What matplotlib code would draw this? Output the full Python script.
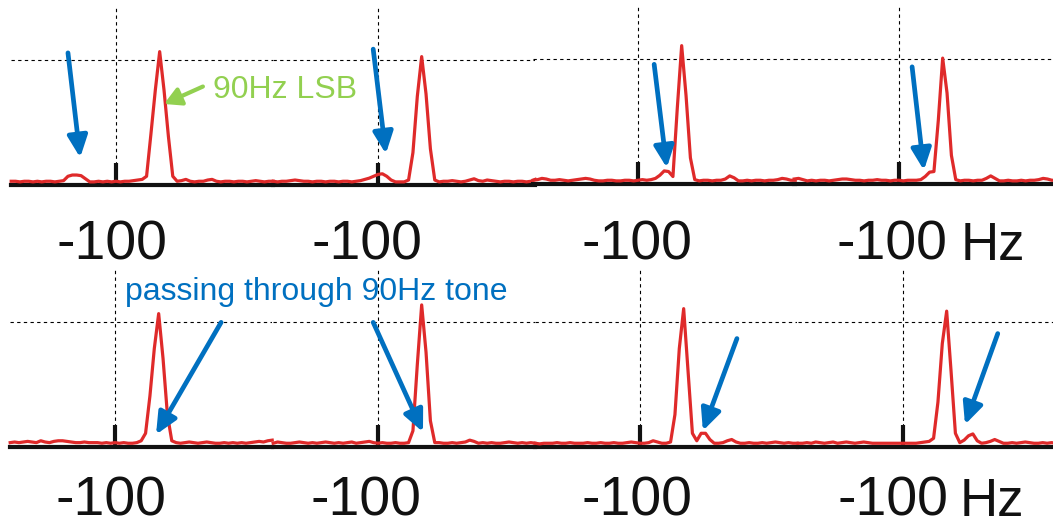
import numpy as np
import matplotlib
matplotlib.use("Agg")
import matplotlib.pyplot as plt

plt.rcParams['font.family'] = ['Liberation Sans', 'DejaVu Sans']

# frequency grid (Hz) shared by all eight spectra
freq = np.arange(-124, -63)

# spectrum magnitude, normalised so the dashed reference line is 1.0
spec_1 = [0.02, 0.02, 0.015, 0.02, 0.02, 0.015, 0.02, 0.015, 0.02, 0.02,
          0.015, 0.02, 0.025, 0.06, 0.07, 0.07, 0.065, 0.04, 0.015, 0.015,
          0.02, 0.015, 0.02, 0.015, 0.02, 0.015, 0.02, 0.02, 0.025, 0.03,
          0.035, 0.06, 0.4, 0.75, 1.06, 0.75, 0.38, 0.06, 0.02, 0.025,
          0.035, 0.02, 0.015, 0.02, 0.02, 0.03, 0.035, 0.02, 0.015, 0.02,
          0.02, 0.015, 0.02, 0.02, 0.015, 0.02, 0.025, 0.02, 0.015, 0.02,
          0.02]
spec_2 = [0.02, 0.015, 0.02, 0.02, 0.025, 0.03, 0.025, 0.02, 0.02, 0.015,
          0.02, 0.02, 0.015, 0.02, 0.02, 0.015, 0.02, 0.02, 0.015, 0.02,
          0.025, 0.035, 0.045, 0.06, 0.075, 0.08, 0.06, 0.03, 0.015, 0.015,
          0.015, 0.03, 0.25, 0.7, 1.02, 0.72, 0.28, 0.03, 0.015, 0.02,
          0.02, 0.025, 0.02, 0.015, 0.02, 0.03, 0.04, 0.025, 0.02, 0.03,
          0.025, 0.02, 0.015, 0.02, 0.02, 0.015, 0.02, 0.02, 0.015, 0.02,
          0.035]
spec_3 = [0.02, 0.025, 0.035, 0.03, 0.02, 0.02, 0.025, 0.02, 0.015, 0.02,
          0.025, 0.03, 0.035, 0.03, 0.02, 0.015, 0.015, 0.02, 0.02, 0.015,
          0.015, 0.02, 0.02, 0.015, 0.02, 0.025, 0.02, 0.025, 0.035, 0.06,
          0.095, 0.09, 0.05, 0.6, 1.1, 0.7, 0.2, 0.025, 0.015, 0.02,
          0.02, 0.015, 0.02, 0.02, 0.03, 0.055, 0.04, 0.015, 0.015, 0.02,
          0.015, 0.02, 0.02, 0.015, 0.02, 0.02, 0.025, 0.035, 0.03, 0.02,
          0.02]
spec_4 = [0.03, 0.035, 0.025, 0.015, 0.02, 0.015, 0.02, 0.02, 0.015, 0.02,
          0.025, 0.03, 0.03, 0.025, 0.02, 0.02, 0.015, 0.02, 0.02, 0.025,
          0.02, 0.02, 0.015, 0.02, 0.02, 0.015, 0.02, 0.02, 0.02, 0.025,
          0.05, 0.085, 0.09, 0.5, 1.0, 0.72, 0.22, 0.025, 0.015, 0.02,
          0.02, 0.015, 0.02, 0.02, 0.035, 0.055, 0.035, 0.015, 0.015, 0.02,
          0.015, 0.015, 0.02, 0.015, 0.02, 0.02, 0.025, 0.035, 0.03, 0.02,
          0.02]
spec_5 = [0.025, 0.03, 0.025, 0.03, 0.035, 0.03, 0.025, 0.04, 0.03, 0.025,
          0.035, 0.04, 0.04, 0.035, 0.03, 0.025, 0.025, 0.03, 0.025, 0.025,
          0.025, 0.02, 0.025, 0.02, 0.025, 0.02, 0.025, 0.02, 0.02, 0.025,
          0.04, 0.1, 0.4, 0.78, 1.06, 0.7, 0.25, 0.04, 0.025, 0.02,
          0.025, 0.03, 0.025, 0.02, 0.025, 0.03, 0.025, 0.02, 0.02, 0.025,
          0.02, 0.025, 0.02, 0.025, 0.02, 0.025, 0.03, 0.035, 0.03, 0.04,
          0.045]
spec_6 = [0.02, 0.03, 0.025, 0.02, 0.02, 0.025, 0.03, 0.025, 0.02, 0.025,
          0.02, 0.025, 0.03, 0.025, 0.02, 0.025, 0.02, 0.025, 0.03, 0.02,
          0.025, 0.03, 0.035, 0.025, 0.02, 0.025, 0.02, 0.02, 0.025, 0.02,
          0.02, 0.025, 0.12, 0.65, 1.13, 0.75, 0.2, 0.025, 0.025, 0.02,
          0.02, 0.025, 0.02, 0.025, 0.03, 0.045, 0.035, 0.02, 0.025, 0.02,
          0.025, 0.02, 0.02, 0.025, 0.03, 0.025, 0.02, 0.025, 0.02, 0.025,
          0.02]
spec_7 = [0.02, 0.015, 0.02, 0.02, 0.02, 0.025, 0.02, 0.02, 0.025, 0.02,
          0.02, 0.02, 0.025, 0.02, 0.02, 0.025, 0.02, 0.02, 0.025, 0.02,
          0.02, 0.025, 0.03, 0.025, 0.02, 0.02, 0.025, 0.04, 0.03, 0.02,
          0.02, 0.03, 0.25, 0.78, 1.1, 0.6, 0.1, 0.04, 0.1, 0.1,
          0.05, 0.02, 0.02, 0.025, 0.04, 0.05, 0.03, 0.02, 0.02, 0.025,
          0.02, 0.02, 0.025, 0.02, 0.025, 0.03, 0.025, 0.02, 0.025, 0.02,
          0.02]
spec_8 = [0.02, 0.02, 0.025, 0.02, 0.03, 0.025, 0.02, 0.025, 0.03, 0.02,
          0.025, 0.03, 0.025, 0.02, 0.025, 0.03, 0.025, 0.02, 0.02, 0.02,
          0.02, 0.02, 0.02, 0.02, 0.02, 0.02, 0.02, 0.02, 0.025, 0.03,
          0.035, 0.06, 0.35, 0.82, 1.08, 0.6, 0.1, 0.025, 0.045, 0.08,
          0.095, 0.04, 0.02, 0.025, 0.035, 0.05, 0.035, 0.02, 0.02, 0.025,
          0.02, 0.025, 0.03, 0.025, 0.02, 0.02, 0.025, 0.02, 0.025, 0.02,
          0.02]
spectra = [spec_1, spec_2, spec_3, spec_4, spec_5, spec_6, spec_7, spec_8]

tick_hz = -100
tick_label = "-100"
unit_label = "Hz"

# blue arrows: (tail, head) in each panel's data coords (Hz, magnitude)
arrow_tail = [(-111.0, 1.06), (-101.1, 1.09), (-96.3, 0.96), (-97.0, 0.94),
              (-75.7, 1.0), (-101.1, 1.0), (-77.8, 0.87), (-78.3, 0.91)]
arrow_head = [(-108.2, 0.22), (-98.2, 0.25), (-93.4, 0.13), (-94.3, 0.11),
              (-90.6, 0.10), (-89.7, 0.12), (-85.6, 0.13), (-85.8, 0.18)]

RED = "#DF2A2A"
BLUE = "#0070C0"
GREEN = "#92D050"

W, H = 1053, 529
fig = plt.figure(figsize=(W / 100, H / 100), dpi=100)

# layout in pixels: x of the -100 tick, y of the black baseline,
# and shift of each big tick label relative to its tick
tick_px = [116, 378, 638, 899, 115, 378, 640, 903]
base_px = [185, 185, 184, 184, 447, 447, 447, 447]
label_dx = [-4, -11, -1, -7, -4, -12, -3, -10]
label_dy = [-75, -75, -75, -75, -69, -69, -69, -69]
xlim = (-124, -64)
ylim = (0, 1.42)
px_per_hz = 4.367
ax_w = (xlim[1] - xlim[0]) * px_per_hz
ax_h = 177

axes = []
for i, y in enumerate(spectra):
    left = tick_px[i] - (tick_hz - xlim[0]) * px_per_hz
    ax = fig.add_axes([left / W, (H - base_px[i]) / H, ax_w / W, ax_h / H])
    ax.set_xlim(*xlim)
    ax.set_ylim(*ylim)
    ax.patch.set_alpha(0)
    for s in ["top", "right", "left"]:
        ax.spines[s].set_visible(False)
    ax.spines["bottom"].set_linewidth(3.0)
    ax.spines["bottom"].set_color("#111111")
    ax.set_yticks([])
    ax.set_xticks([tick_hz])
    ax.set_xticklabels([])
    ax.tick_params(axis="x", direction="in", length=16, width=3.0,
                   color="#111111")
    ax.annotate(tick_label, xy=(tick_hz, 0), xytext=(label_dx[i], label_dy[i]),
                textcoords="offset pixels", ha="center", va="baseline",
                fontsize=40, color="#111111", annotation_clip=False)
    ax.axvline(tick_hz, color="black", lw=0.8, ls=(0, (3, 3)), zorder=1)
    ax.axhline(1.0, color="black", lw=0.8, ls=(0, (3, 3)), zorder=1)
    ax.plot(freq, np.array(y) + 0.01, color=RED, lw=2.3, zorder=4,
            clip_on=False)
    ax.annotate("", xy=arrow_head[i], xytext=arrow_tail[i],
                arrowprops=dict(arrowstyle="-|>,head_length=1.3,head_width=0.6",
                                mutation_scale=10, lw=3.4, color=BLUE,
                                shrinkA=0, shrinkB=0), zorder=6)
    axes.append(ax)

# annotations
axes[0].annotate("", xy=(-89.0, 0.65), xytext=(-80.1, 0.79),
                 arrowprops=dict(arrowstyle="-|>,head_length=1.0,head_width=0.55",
                                 mutation_scale=10, lw=3.0, color=GREEN,
                                 shrinkA=0, shrinkB=0), zorder=6)
axes[0].text(-77.8, 0.76, "90Hz LSB", color=GREEN, fontsize=23,
             ha="left", va="center", zorder=7)
axes[4].text(-97.7, 1.24, "passing through 90Hz tone", color=BLUE,
             fontsize=23, ha="left", va="center", zorder=7)

fig.text(993 / W, 1 - 260 / H, unit_label, fontsize=38, ha="center",
         va="baseline", color="#111111")
fig.text(992 / W, 1 - 516 / H, unit_label, fontsize=38, ha="center",
         va="baseline", color="#111111")

fig.savefig("out.png", dpi=100)
